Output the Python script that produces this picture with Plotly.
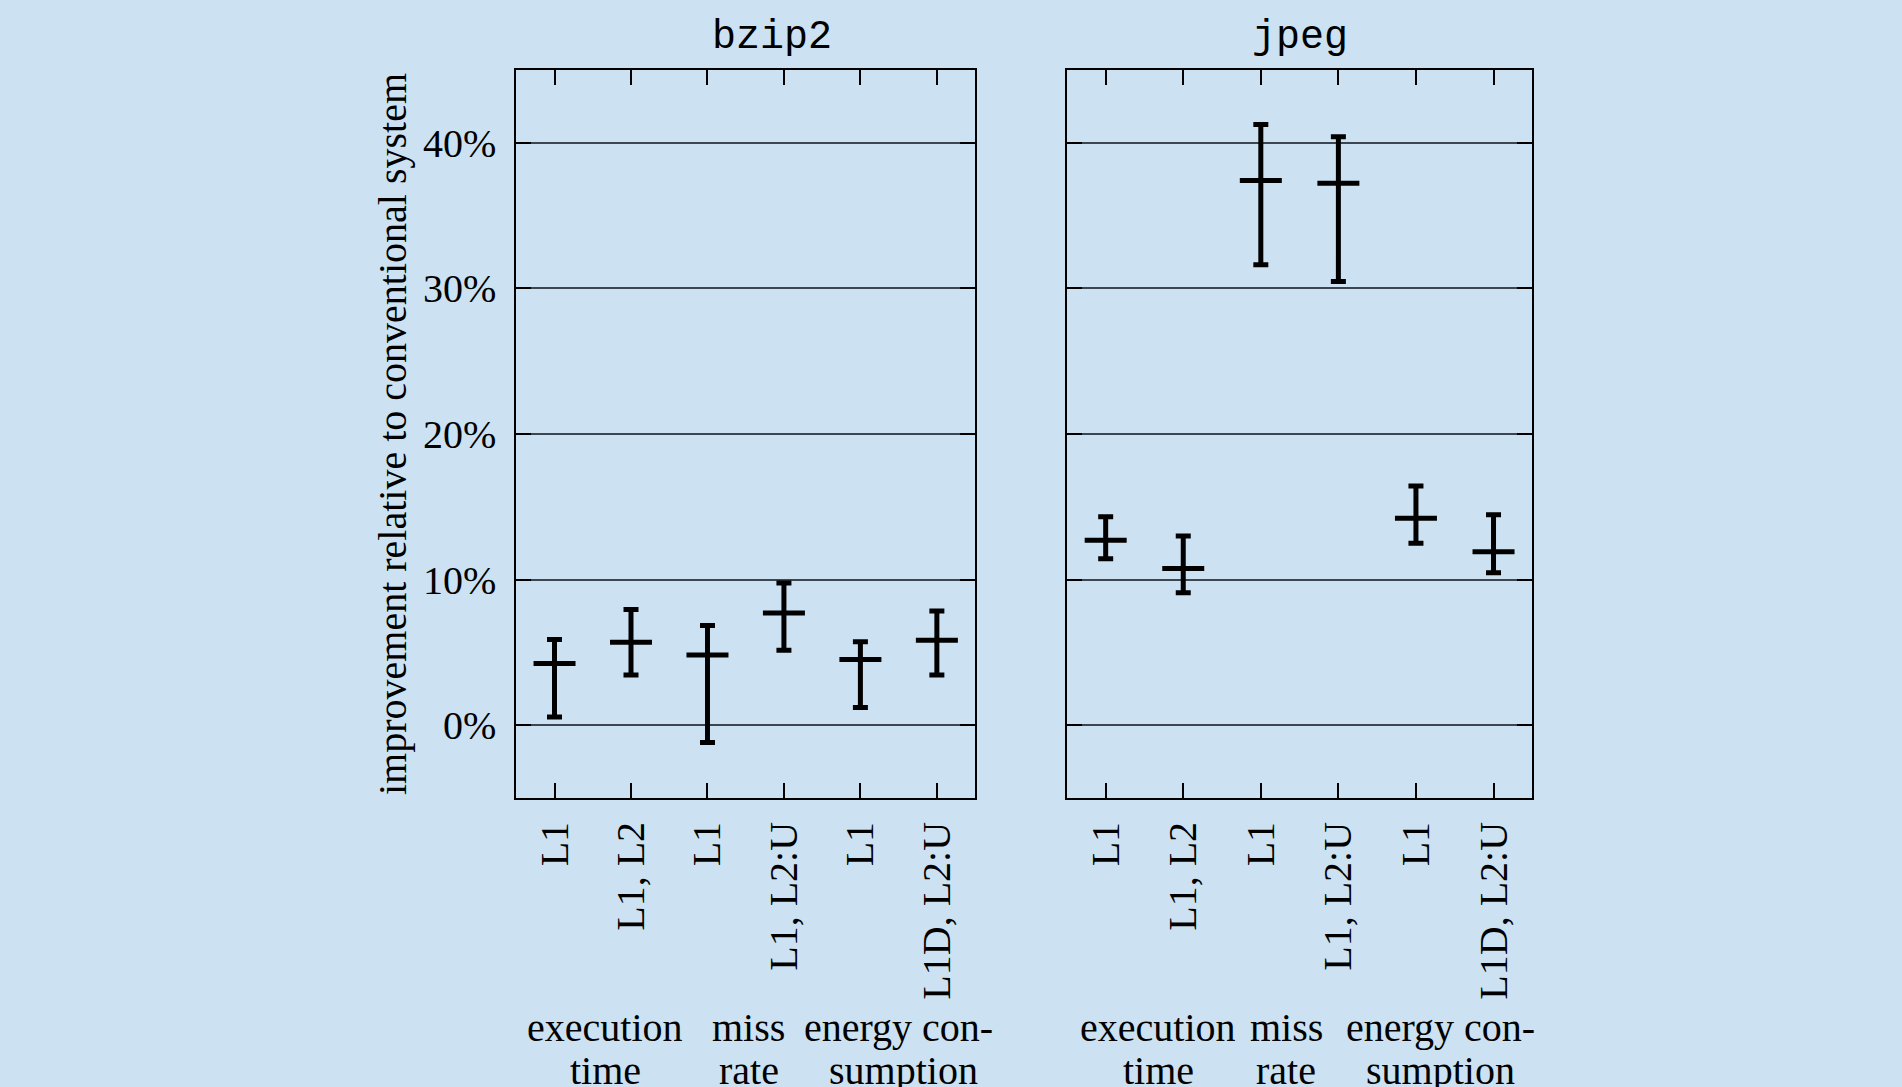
import plotly.graph_objects as go

# ---- data ----
benchmarks = ["bzip2", "jpeg"]
categories = ["L1", "L1, L2", "L1", "L1, L2:U", "L1", "L1D, L2:U"]

bzip2_mean = [4.24, 5.70, 4.83, 7.70, 4.51, 5.84]
bzip2_high = [5.89, 7.95, 6.85, 9.76, 5.73, 7.84]
bzip2_low = [0.57, 3.44, -1.19, 5.15, 1.21, 3.44]

jpeg_mean = [12.71, 10.77, 37.41, 37.23, 14.21, 11.91]
jpeg_high = [14.32, 12.99, 41.26, 40.41, 16.43, 14.46]
jpeg_low = [11.43, 9.09, 31.62, 30.47, 12.49, 10.47]

group_line1 = ["execution", "miss", "energy con-"]
group_line2 = ["time", "rate", "sumption"]

y_tick_vals = [0, 10, 20, 30, 40]
y_tick_text = ["0%", "10%", "20%", "30%", "40%"]
y_title = "improvement relative to conventional system"

# ---- layout constants ----
W, H = 1902, 1087
BG = "#cce2f2"
PLOT_TOP, PLOT_BOTTOM = 70, 798
domains = [[516.3 / W, 975.1 / W], [1066.9 / W, 1532.3 / W]]
title_px = [772, 1300]
group_x = [[0.66, 2.54, 4.50], [0.67, 2.33, 4.32]]
group_x2 = [[0.66, 2.54, 4.56], [0.68, 2.33, 4.32]]
FS = 40

xs = list(range(len(categories)))
series = [(bzip2_mean, bzip2_high, bzip2_low), (jpeg_mean, jpeg_high, jpeg_low)]

fig = go.Figure()
for i, (mean, hi, lo) in enumerate(series):
    fig.add_trace(go.Scatter(
        x=xs, y=mean, mode="markers",
        xaxis="x" if i == 0 else "x2", yaxis="y" if i == 0 else "y2",
        marker=dict(symbol="line-ew", size=30, color="black",
                    line=dict(color="black", width=5)),
        error_y=dict(type="data", symmetric=False,
                     array=[h - m for h, m in zip(hi, mean)],
                     arrayminus=[m - l for m, l in zip(mean, lo)],
                     color="black", thickness=5, width=7.5),
        showlegend=False, hoverinfo="skip",
    ))

font_serif = "Liberation Serif, Times New Roman, serif"
font_mono = "Liberation Mono, Courier New, monospace"

xaxis_common = dict(
    range=[-0.5, 5.5], tickmode="array", tickvals=xs, ticktext=categories,
    tickangle=-90, ticks="inside", ticklen=15, tickwidth=1.5, tickcolor="black",
    mirror="ticks", showline=True, linecolor="black", linewidth=1.8,
    showgrid=False, zeroline=False, tickfont=dict(size=FS, family=font_serif, color="black"),
    automargin=False, fixedrange=True, ticklabelstandoff=6,
)
yaxis_common = dict(
    range=[-5, 45], tickmode="array", tickvals=y_tick_vals, ticktext=y_tick_text,
    ticks="inside", ticklen=15, tickwidth=1.5, tickcolor="black",
    mirror="ticks", showline=True, linecolor="black", linewidth=1.8,
    showgrid=True, gridcolor="#3c4650", gridwidth=1.5, zeroline=False,
    tickfont=dict(size=FS, family=font_serif, color="black"),
    automargin=False, fixedrange=True,
)

annotations = []
for i, name in enumerate(benchmarks):
    annotations.append(dict(
        text=name, xref="paper", yref="paper",
        x=title_px[i] / W, y=(PLOT_BOTTOM - 37.5) / (PLOT_BOTTOM - PLOT_TOP),
        xanchor="center", yanchor="middle", showarrow=False,
        font=dict(family=font_mono, size=FS, color="black"),
    ))
    xr = "x" if i == 0 else "x2"
    for j in range(len(group_line1)):
        annotations.append(dict(
            text=group_line1[j], xref=xr, yref="paper",
            x=group_x[i][j], y=(PLOT_BOTTOM - 1027) / (PLOT_BOTTOM - PLOT_TOP),
            xanchor="center", yanchor="middle", showarrow=False,
            font=dict(family=font_serif, size=FS, color="black"),
        ))
        annotations.append(dict(
            text=group_line2[j], xref=xr, yref="paper",
            x=group_x2[i][j], y=(PLOT_BOTTOM - 1070) / (PLOT_BOTTOM - PLOT_TOP),
            xanchor="center", yanchor="middle", showarrow=False,
            font=dict(family=font_serif, size=FS, color="black"),
        ))

annotations.append(dict(
    text=y_title, xref="paper", yref="paper", x=392 / W, y=0.5,
    xanchor="center", yanchor="middle", textangle=-90, showarrow=False,
    font=dict(family=font_serif, size=FS, color="black"),
))

fig.update_layout(
    width=W, height=H,
    margin=dict(l=0, r=0, t=PLOT_TOP, b=H - PLOT_BOTTOM, pad=0),
    paper_bgcolor=BG, plot_bgcolor=BG,
    font=dict(family=font_serif, color="black"),
    xaxis=dict(domain=domains[0], anchor="y", **xaxis_common),
    xaxis2=dict(domain=domains[1], anchor="y2", **xaxis_common),
    yaxis=dict(domain=[0, 1], anchor="x", ticklabelstandoff=10, **yaxis_common),
    yaxis2=dict(domain=[0, 1], anchor="x2", matches="y", showticklabels=False,
                **{k: v for k, v in yaxis_common.items() if k not in ("tickfont",)}),
    annotations=annotations,
)

fig.write_html(
    "out.html",
    config={"displayModeBar": False},
    post_script="document.body.style.margin='0px';document.body.style.overflow='hidden';",
)
